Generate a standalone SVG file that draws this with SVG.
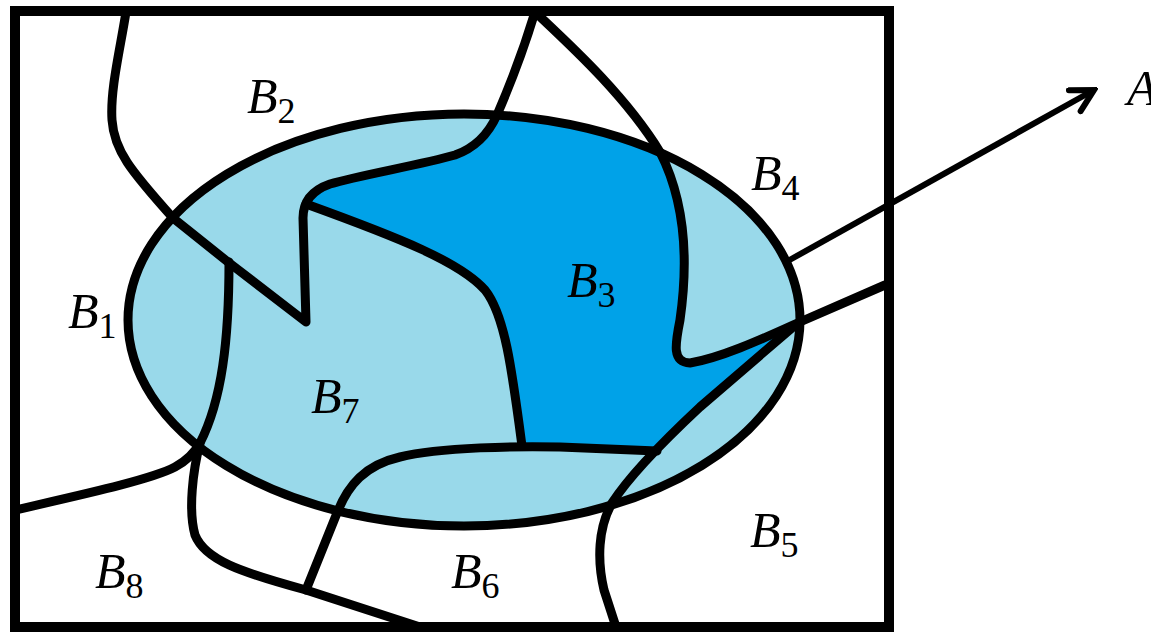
<svg xmlns="http://www.w3.org/2000/svg" width="1151" height="632" viewBox="0 0 1151 632">
<style>
.ln{fill:none;stroke:#000;stroke-width:9;stroke-linejoin:round;stroke-linecap:round}
.lbl{font-family:"Liberation Serif","Times New Roman",serif;font-style:italic;font-size:50px;fill:#000}
.sub{font-style:normal;font-size:36px}
</style>
<defs>
<marker id="ah" viewBox="0 0 30 30" refX="26" refY="15" markerWidth="30" markerHeight="30" markerUnits="userSpaceOnUse" orient="auto">
<path d="M4,3 L26,15 L4,27" fill="none" stroke="#000" stroke-width="6" stroke-linecap="round" stroke-linejoin="miter"/>
</marker>
</defs>
<rect width="1151" height="632" fill="#fff"/>
<g id="set-A">
<ellipse cx="464" cy="320" rx="336" ry="206" fill="#99D9EA"/>
</g>
<g id="region-B3">
<path d="M304,212 C306,196 315,189 330,184 C360,175 420,165 455,155 C475,148 488,135 497,115 A336 206 0 0 1 660,152 C682,195 690,250 680,320 C675,345 672,362 690,363 C720,358 760,340 793,325 L700,407 C680,425 665,440 657,450 L560,447 L522,446 C512,370 505,315 485,290 C460,262 400,238 306,204 Z" fill="#00A2E8"/>
</g>
<g id="connectors">
<ellipse class="ln" cx="464" cy="320" rx="336" ry="206"/>
<path class="ln" d="M126,12 C120,50 110,90 112,120 C114,150 130,170 173,218 L228,262 L306,322 L303,218 C303,203 310,191 330,184 C360,175 420,165 455,155 C475,148 488,135 497,115 C510,85 522,55 535,12"/>
<path class="ln" d="M306,204 C400,238 460,262 485,290 C505,315 512,370 522,446"/>
<path class="ln" d="M229,262 C229,340 222,400 200,443 C193,470 188,510 195,535 C205,560 240,572 306,590 L420,627"/>
<path class="ln" d="M15,510 C80,495 150,480 175,467 C188,460 195,452 200,443"/>
<path class="ln" d="M306,590 L337,513 C348,485 365,465 400,457 C440,447 520,446 560,447 L657,451"/>
<path class="ln" d="M535,12 C570,45 625,95 660,152 C682,195 690,250 680,320 C675,345 672,362 690,363 C720,358 760,340 793,325 L885,285"/>
<path class="ln" d="M793,327 L700,407 C670,435 630,475 612,503 C598,528 597,560 604,590 L616,627"/>
<line x1="786" y1="262" x2="1094" y2="90" stroke="#000" stroke-width="6" marker-end="url(#ah)"/>
</g>
<g id="frame">
<rect x="15" y="11" width="874" height="616" fill="none" stroke="#000" stroke-width="10"/>
</g>
<g id="labels">
<text class="lbl" x="68" y="328">B<tspan class="sub" dy="10">1</tspan></text>
<text class="lbl" x="247" y="113">B<tspan class="sub" dy="10">2</tspan></text>
<text class="lbl" x="567" y="297">B<tspan class="sub" dy="10">3</tspan></text>
<text class="lbl" x="751" y="190">B<tspan class="sub" dy="10">4</tspan></text>
<text class="lbl" x="750" y="547">B<tspan class="sub" dy="10">5</tspan></text>
<text class="lbl" x="451" y="588">B<tspan class="sub" dy="10">6</tspan></text>
<text class="lbl" x="311" y="413">B<tspan class="sub" dy="10">7</tspan></text>
<text class="lbl" x="95" y="588">B<tspan class="sub" dy="10">8</tspan></text>
<text class="lbl" x="1127" y="105">A</text>
</g>
</svg>
